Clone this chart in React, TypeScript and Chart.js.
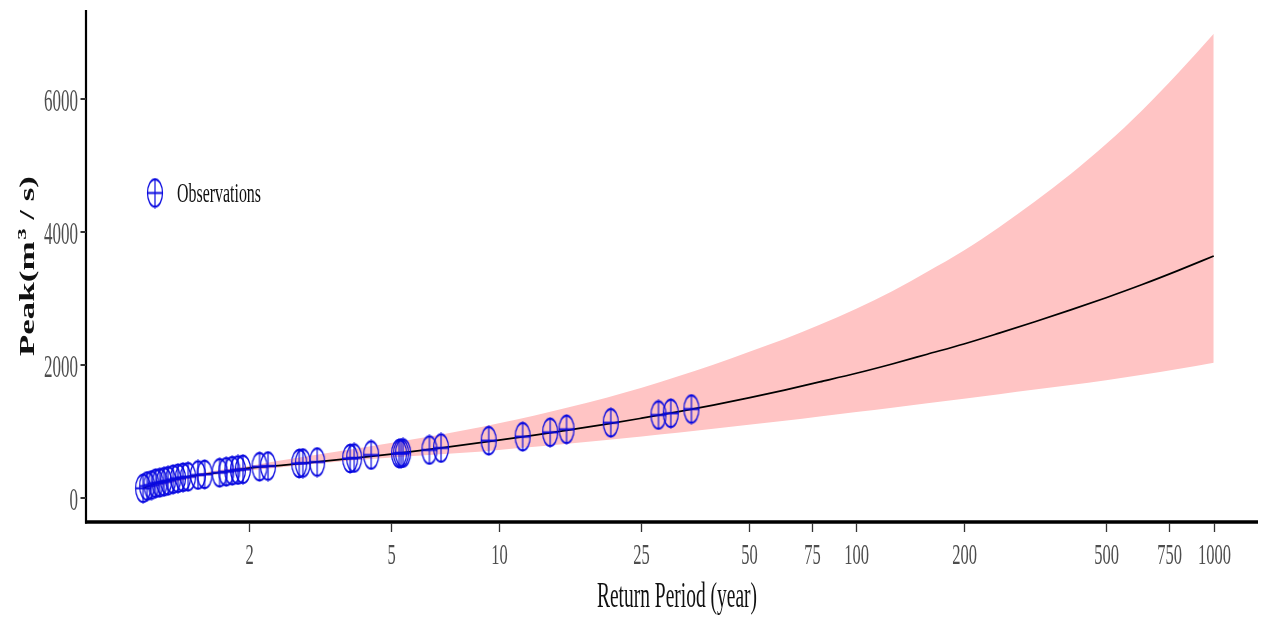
import React, { useEffect, useRef } from "react";
import { Chart, registerables } from "chart.js";

Chart.register(...registerables);

// ---- data ----
const obsT = [
  1.011, 1.038, 1.067, 1.096, 1.125, 1.157, 1.188, 1.227, 1.266, 1.308, 1.351,
  1.44, 1.503, 1.655, 1.728, 1.796, 1.863, 1.924, 2.141, 2.261, 2.764, 2.83,
  3.103, 3.838, 3.938, 4.393, 5.26, 5.328, 5.398, 6.394, 6.892, 9.368, 11.66,
  13.92, 15.47, 20.57, 27.97, 30.27, 34.58,
];
const obsQ = [
  146, 180, 195, 221, 230, 245, 260, 281, 296, 311, 320, 346, 356, 380, 395,
  411, 421, 432, 471, 481, 519, 526, 541, 594, 602, 647, 669, 672, 677, 722,
  752, 862, 922, 988, 1033, 1132, 1248, 1274, 1338,
];

const curveT = [
  1.011, 1.1, 1.2, 1.35, 1.5, 1.75, 2, 2.5, 3, 4, 5, 7, 10, 12.6, 15.8, 20,
  25.1, 31.6, 39.8, 50, 63, 79, 100, 126, 158, 200, 251, 316, 398, 500, 631,
  794, 1000,
];
const curveQ = [
  146, 222, 265, 320, 356, 402, 448, 495, 536, 605, 660, 757, 869, 945, 1025,
  1110, 1200, 1295, 1397, 1505, 1622, 1745, 1875, 2015, 2162, 2316, 2479, 2650,
  2828, 3012, 3210, 3419, 3639,
];

const bandT = [
  1.011, 1.5, 2, 2.4, 3, 4, 5.5, 9, 10, 12.6, 15.8, 20, 25.1, 31.6, 39.8, 50,
  63, 79, 100, 126, 158, 200, 251, 316, 398, 500, 631, 794, 1000,
];
const bandUpper = [
  165, 385, 480, 555, 640, 745, 865, 1073, 1124, 1242, 1370, 1509, 1659, 1825,
  2005, 2195, 2390, 2605, 2845, 3110, 3402, 3722, 4072, 4457, 4872, 5322, 5832,
  6388, 6982,
];
const bandLower = [
  125, 330, 415, 455, 510, 570, 625, 700, 722, 770, 820, 872, 926, 982, 1040,
  1100, 1162, 1226, 1292, 1358, 1425, 1493, 1561, 1630, 1700, 1772, 1852, 1940,
  2035,
];

const xTicks = [2, 5, 10, 25, 50, 75, 100, 200, 500, 750, 1000];
const yTicks = [0, 2000, 4000, 6000];

const xTitle = "Return Period (year)";
const yTitleMain = "Peak(m";
const yTitleSup = "3";
const yTitleEnd = " / s)";
const legendLabel = "Observations";

const FONT = '"Liberation Serif", "Times New Roman", serif';
const SY = 1.8;
const BLUE = "#0b0be0";

function makeMarker(): HTMLCanvasElement {
  const c = document.createElement("canvas");
  const k = 1.82;
  c.width = 18;
  c.height = 31;
  const ctx = c.getContext("2d")!;
  ctx.save();
  ctx.scale(1, k);
  ctx.strokeStyle = BLUE;
  ctx.lineWidth = 1.2;
  const cx = 9;
  const cy = 15.5 / k;
  ctx.beginPath();
  ctx.arc(cx, cy, 7.5, 0, Math.PI * 2);
  ctx.stroke();
  ctx.beginPath();
  ctx.moveTo(cx - 7.5, cy);
  ctx.lineTo(cx + 7.5, cy);
  ctx.moveTo(cx, cy - 8.3);
  ctx.lineTo(cx, cy + 8.3);
  ctx.stroke();
  ctx.restore();
  return c;
}

function stretchedText(
  ctx: CanvasRenderingContext2D,
  text: string,
  x: number,
  y: number,
  font: string,
  color: string,
  align: CanvasTextAlign,
  sy: number,
  targetWidth?: number
) {
  ctx.save();
  ctx.font = font;
  let sx = 1;
  if (targetWidth) sx = targetWidth / ctx.measureText(text).width;
  ctx.translate(x, y);
  ctx.scale(sx, sy);
  ctx.fillStyle = color;
  ctx.textAlign = align;
  ctx.textBaseline = "alphabetic";
  ctx.fillText(text, 0, 0);
  ctx.restore();
}

export default function App() {
  const ref = useRef<HTMLCanvasElement | null>(null);

  useEffect(() => {
    if (!ref.current) return;
    const marker = makeMarker();

    const decor = {
      id: "decor",
      afterDraw(chart: any) {
        const ctx: CanvasRenderingContext2D = chart.ctx;
        const { left, right, top, bottom } = chart.chartArea;
        const xs = chart.scales.x;
        const ys = chart.scales.y;
        ctx.save();
        // axis lines
        ctx.strokeStyle = "#000";
        ctx.lineWidth = 2.2;
        ctx.beginPath();
        ctx.moveTo(left, top);
        ctx.lineTo(left, bottom + 2.5);
        ctx.stroke();
        ctx.lineWidth = 3.5;
        ctx.beginPath();
        ctx.moveTo(left - 1, bottom + 1);
        ctx.lineTo(right, bottom + 1);
        ctx.stroke();
        // x ticks
        ctx.strokeStyle = "#333";
        ctx.lineWidth = 1.3;
        xTicks.forEach((t) => {
          const px = Math.round(xs.getPixelForValue(t)) + 0.5;
          ctx.beginPath();
          ctx.moveTo(px, bottom + 2);
          ctx.lineTo(px, bottom + 11);
          ctx.stroke();
          stretchedText(ctx, String(t), px, 564, `16.5px ${FONT}`, "#4d4d4d", "center", SY);
        });
        // y ticks
        ctx.lineWidth = 2;
        yTicks.forEach((v) => {
          const py = ys.getPixelForValue(v);
          ctx.beginPath();
          ctx.moveTo(left - 5.5, py);
          ctx.lineTo(left, py);
          ctx.stroke();
          stretchedText(ctx, String(v), 78, py + 12, `17px ${FONT}`, "#4d4d4d", "right", SY);
        });
        // x title
        stretchedText(ctx, xTitle, 677, 607, `19.5px ${FONT}`, "#111", "center", SY, 160);
        // y title (rotated, stretched along text)
        ctx.save();
        ctx.translate(34, 356);
        ctx.rotate(-Math.PI / 2);
        const fMain = `bold 20px ${FONT}`;
        const fSup = `bold 13px ${FONT}`;
        ctx.font = fMain;
        const w1 = ctx.measureText(yTitleMain).width;
        const w3 = ctx.measureText(yTitleEnd).width;
        ctx.font = fSup;
        const w2 = ctx.measureText(yTitleSup).width;
        const total = w1 + w2 + 1 + w3;
        const sx = 180 / total;
        ctx.scale(sx, 1);
        ctx.fillStyle = "#111";
        ctx.textBaseline = "alphabetic";
        ctx.textAlign = "left";
        ctx.font = fMain;
        ctx.fillText(yTitleMain, 0, 0);
        ctx.font = fSup;
        ctx.fillText(yTitleSup, w1 + 1, -8);
        ctx.font = fMain;
        ctx.fillText(yTitleEnd, w1 + w2 + 1, 0);
        ctx.restore();
        // legend
        ctx.drawImage(marker, 155 - 9, 193 - 15.5);
        stretchedText(ctx, legendLabel, 177, 202, `16px ${FONT}`, "#111", "left", 1.75, 84);
        ctx.restore();
      },
    };

    const chart = new Chart(ref.current, {
      type: "scatter",
      data: {
        datasets: [
          {
            label: "upper",
            data: bandT.map((t, i) => ({ x: t, y: bandUpper[i] })),
            showLine: true,
            borderWidth: 0,
            borderColor: "rgba(0,0,0,0)",
            pointRadius: 0,
            backgroundColor: "#FFC4C4",
            fill: "+1",
            cubicInterpolationMode: "monotone",
            order: 3,
          },
          {
            label: "lower",
            data: bandT.map((t, i) => ({ x: t, y: bandLower[i] })),
            showLine: true,
            borderWidth: 0,
            borderColor: "rgba(0,0,0,0)",
            pointRadius: 0,
            fill: false,
            cubicInterpolationMode: "monotone",
            order: 4,
          },
          {
            label: "fit",
            data: curveT.map((t, i) => ({ x: t, y: curveQ[i] })),
            showLine: true,
            borderWidth: 1.7,
            borderColor: "#000",
            pointRadius: 0,
            fill: false,
            cubicInterpolationMode: "monotone",
            order: 2,
          },
          {
            label: legendLabel,
            data: obsT.map((t, i) => ({ x: t, y: obsQ[i] })),
            showLine: false,
            pointStyle: marker as any,
            pointRadius: 8,
            order: 1,
          },
        ],
      },
      options: {
        animation: false,
        responsive: false,
        devicePixelRatio: 1,
        layout: { padding: { left: 86, top: 10, right: 13, bottom: 96 } },
        plugins: { legend: { display: false }, tooltip: { enabled: false }, title: { display: false } },
        scales: {
          x: { type: "logarithmic", min: 0.7066, max: 1330, display: false },
          y: { type: "linear", min: -346, max: 7338, display: false },
        },
      } as any,
      plugins: [decor],
    });
    return () => chart.destroy();
  }, []);

  return (
    <div style={{ position: "fixed", left: 0, top: 0, width: 1271, height: 617, background: "#fff" }}>
      <canvas ref={ref} width={1271} height={617} style={{ display: "block", width: 1271, height: 617 }} />
    </div>
  );
}
